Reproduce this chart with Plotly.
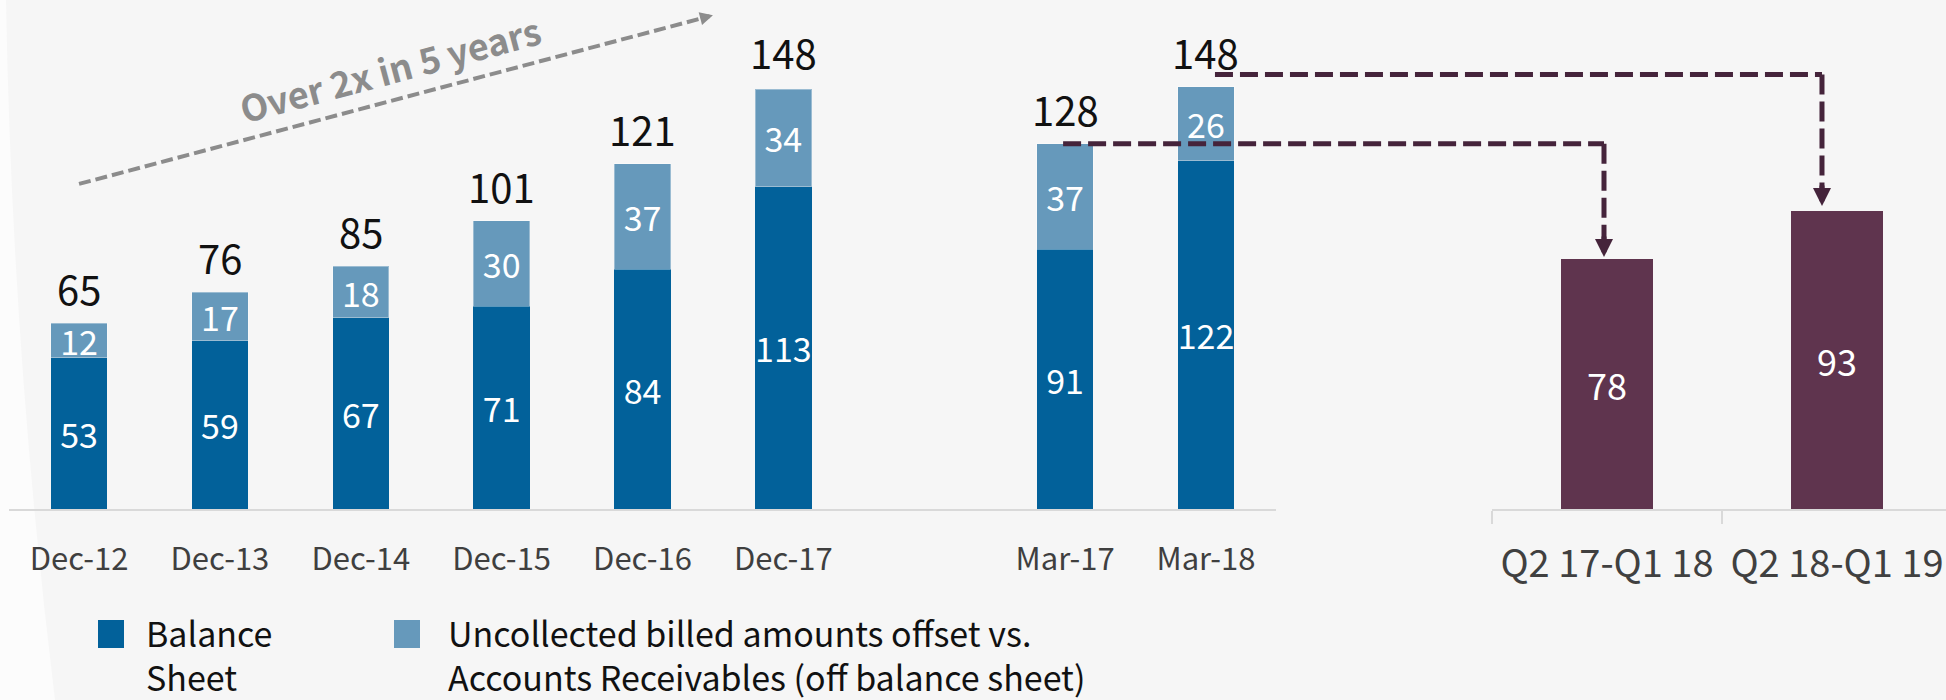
import plotly.graph_objects as go

W, H = 1946, 700

# ---------------- data ----------------
categories = ['Dec-12', 'Dec-13', 'Dec-14', 'Dec-15', 'Dec-16', 'Dec-17', 'Mar-17', 'Mar-18']
balance_sheet = [53, 59, 67, 71, 84, 113, 91, 122]
uncollected = [12, 17, 18, 30, 37, 34, 37, 26]
totals = [65, 76, 85, 101, 121, 148, 128, 148]
axis_slots = ['Dec-12', 'Dec-13', 'Dec-14', 'Dec-15', 'Dec-16', 'Dec-17', ' ', 'Mar-17', 'Mar-18']

periods = ['Q2 17-Q1 18', 'Q2 18-Q1 19']
period_values = [78, 93]

legend_labels = ['Balance<br>Sheet',
                 'Uncollected billed amounts offset vs.<br>Accounts Receivables (off balance sheet)']
growth_text = 'Over 2x in 5 years'

# ---------------- style ----------------
DARK = '#02619A'
LIGHT = '#6699BB'
PURPLE = '#5F344E'
ARROW = '#45243B'
GREY_ARROW = '#8C8C8C'
AXISLINE = '#D9D9D9'
BG = '#F6F6F6'
FONT = 'Noto Sans CJK SC'

X1_DOM = [8.6 / W, 1276.4 / W]
X1_RANGE = [-0.5, 8.5]
X2_DOM = [1492 / W, 1.0]
X2_RANGE = [-0.5, 1.474]
Y_DOM = [(H - 509) / H, 1.0]
Y1_RANGE = [0, 178.35]
Y2_RANGE = [0, 158.8]


def to_paper(v, dom, rng):
    return dom[0] + (v - rng[0]) / (rng[1] - rng[0]) * (dom[1] - dom[0])


def x1p(v):
    return to_paper(v, X1_DOM, X1_RANGE)


def x2p(v):
    return to_paper(v, X2_DOM, X2_RANGE)


def y1p(v):
    return to_paper(v, Y_DOM, Y1_RANGE)


def y2p(v):
    return to_paper(v, Y_DOM, Y2_RANGE)


fig = go.Figure()

fig.add_trace(go.Bar(
    name='Balance Sheet', x=categories, y=balance_sheet, width=0.4,
    marker=dict(color=DARK, line=dict(width=0)),
    text=balance_sheet, textposition='inside', insidetextanchor='middle',
    textangle=0, constraintext='none',
    textfont=dict(color='white', size=34, family=FONT),
    xaxis='x', yaxis='y', showlegend=False, hoverinfo='skip'))

fig.add_trace(go.Bar(
    name='Uncollected billed amounts offset vs. Accounts Receivables (off balance sheet)',
    x=categories, y=uncollected, width=0.4,
    marker=dict(color=LIGHT, line=dict(width=1, color='rgba(255,255,255,0.35)')),
    text=uncollected, textposition='inside', insidetextanchor='middle',
    textangle=0, constraintext='none',
    textfont=dict(color='white', size=34, family=FONT),
    xaxis='x', yaxis='y', showlegend=False, hoverinfo='skip'))

fig.add_trace(go.Bar(
    name='Period', x=periods, y=period_values, width=0.4,
    marker=dict(color=PURPLE, line=dict(width=0)),
    text=period_values, textposition='inside', insidetextanchor='middle',
    textangle=0, constraintext='none',
    textfont=dict(color='white', size=36, family=FONT),
    xaxis='x2', yaxis='y2', showlegend=False, hoverinfo='skip'))

annotations = []
shapes = []

# totals above stacked bars
for cat, tot in zip(categories, totals):
    annotations.append(dict(
        x=axis_slots.index(cat), y=tot, xref='x', yref='y',
        text=str(tot), showarrow=False, xanchor='center', yanchor='middle',
        yshift=35, font=dict(size=40, color='#111111', family=FONT)))

# left-edge lighter curved band (slide decoration)
shapes.append(dict(type='path', xref='paper', yref='paper', layer='below',
                   path=f'M 0,1 L {6/W},1 Q {12/W},0.5 {55/W},0 L 0,0 Z',
                   fillcolor='#FCFCFC', line=dict(width=0)))

# growth arrow (grey dashed)
g_start = (0, 113.9)
g_end = (4.5, 173.0)
gx0, gy0 = x1p(g_start[0]), y1p(g_start[1])
gx1, gy1 = x1p(g_end[0]), y1p(g_end[1])
dxp = (gx1 - gx0) * W
dyp = (gy1 - gy0) * H
L = (dxp ** 2 + dyp ** 2) ** 0.5
shapes.append(dict(type='line', xref='paper', yref='paper',
                   x0=gx0, y0=gy0,
                   x1=gx1 - 8 * dxp / L / W, y1=gy1 - 8 * dyp / L / H,
                   line=dict(color=GREY_ARROW, width=4, dash='12px,5px')))
annotations.append(dict(x=gx1, y=gy1, xref='paper', yref='paper', text='',
                        showarrow=True, arrowhead=2, arrowsize=0.65, arrowwidth=4,
                        arrowcolor=GREY_ARROW, ax=-14 * dxp / L, ay=14 * dyp / L,
                        standoff=0))
annotations.append(dict(x=390 / W, y=1 - 68 / H, xref='paper', yref='paper',
                        text=growth_text, showarrow=False, textangle=-15,
                        xanchor='center', yanchor='middle', borderpad=0,
                        font=dict(size=36, color=GREY_ARROW, family=FONT, weight='bold')))

# connectors from March bars to the period bars
connectors = [
    # (source category, source value, vertical px offset, source x px offset,
    #  target period index, target value, target x px offset, tip gap px)
    ('Mar-17', 128, 0, -2, 0, 78, -3, 2),
    ('Mar-18', 148, 12, 9, 1, 93, -15, 5),
]
for cat, sval, voff, sxoff, tidx, tval, txoff, gap in connectors:
    hy = y1p(sval) + voff / H
    xs = x1p(axis_slots.index(cat)) + sxoff / W
    xv = x2p(tidx) + txoff / W
    tip = y2p(tval) + gap / H
    shapes.append(dict(type='line', xref='paper', yref='paper', x0=xs, y0=hy, x1=xv, y1=hy,
                       line=dict(color=ARROW, width=5, dash='18px,7px')))
    shapes.append(dict(type='line', xref='paper', yref='paper', x0=xv, y0=hy, x1=xv,
                       y1=tip + 16 / H,
                       line=dict(color=ARROW, width=5, dash='20px,7px')))
    annotations.append(dict(x=xv, y=tip, xref='paper', yref='paper', text='',
                            showarrow=True, arrowhead=2, arrowsize=0.72, arrowwidth=5,
                            arrowcolor=ARROW, ax=0, ay=-22, standoff=0))

# custom legend
legend_items = [(98, 144, DARK, legend_labels[0]), (394, 446, LIGHT, legend_labels[1])]
for sx, tx, col, lab in legend_items:
    shapes.append(dict(type='rect', xref='paper', yref='paper',
                       x0=sx / W, x1=(sx + 26) / W, y0=1 - 648 / H, y1=1 - 620 / H,
                       fillcolor=col, line=dict(width=0)))
    annotations.append(dict(x=tx / W, y=1 - 606 / H, xref='paper', yref='paper',
                            text=lab, showarrow=False, xanchor='left', yanchor='top',
                            align='left', font=dict(size=34, color='#111111', family=FONT)))

fig.update_layout(
    width=W, height=H,
    margin=dict(l=0, r=0, t=0, b=0, autoexpand=False),
    paper_bgcolor=BG, plot_bgcolor='rgba(0,0,0,0)',
    font=dict(family=FONT),
    barmode='stack', bargap=0.6,
    showlegend=False,
    hovermode=False,
    xaxis=dict(domain=X1_DOM, range=X1_RANGE, type='category',
               categoryorder='array', categoryarray=axis_slots,
               showline=True, linecolor=AXISLINE, linewidth=2,
               ticks='', showgrid=False, zeroline=False, automargin=False,
               tickangle=0,
               tickfont=dict(size=31, color='#3F3F3F', family=FONT),
               ticklabelstandoff=22, anchor='y', fixedrange=True),
    xaxis2=dict(domain=X2_DOM, range=X2_RANGE, type='category',
                showline=True, linecolor=AXISLINE, linewidth=2,
                ticks='outside', tickson='boundaries', ticklen=13,
                tickcolor=AXISLINE, tickwidth=2, tickangle=0,
                showgrid=False, zeroline=False, automargin=False,
                tickfont=dict(size=38, color='#404040', family=FONT),
                ticklabelstandoff=20, anchor='y2', fixedrange=True),
    yaxis=dict(domain=Y_DOM, range=Y1_RANGE, visible=False, fixedrange=True,
               anchor='x', automargin=False),
    yaxis2=dict(domain=Y_DOM, range=Y2_RANGE, visible=False, fixedrange=True,
                anchor='x2', automargin=False),
    annotations=annotations,
    shapes=shapes,
)

fig.write_html('out.html', config={'displayModeBar': False},
               post_script="document.body.style.margin='0';"
                           "document.body.style.background='#F6F6F6';")
